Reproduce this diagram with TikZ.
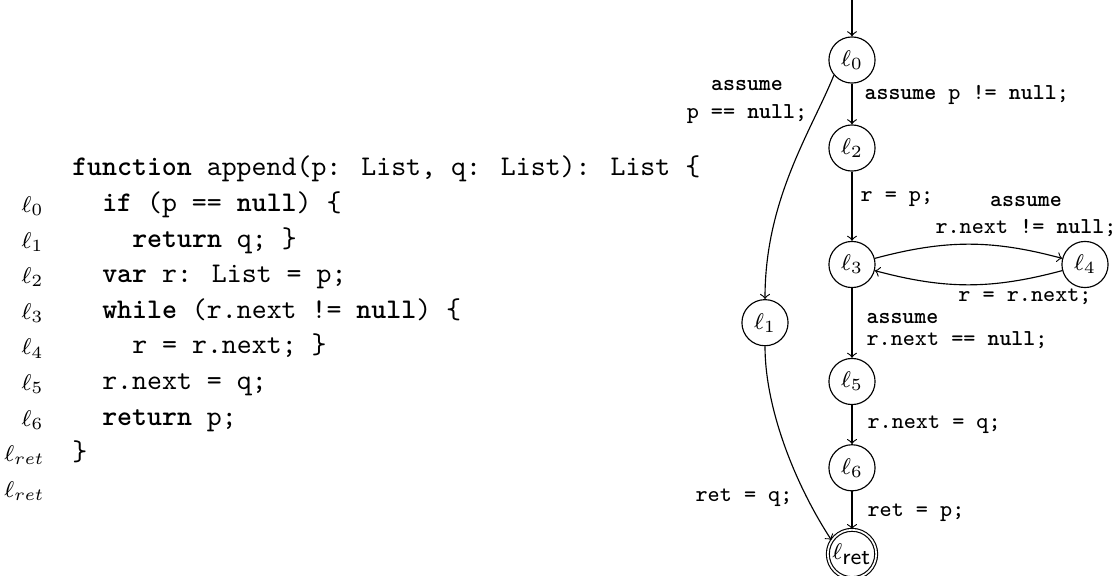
\documentclass[tikz,border=0pt]{standalone}
\begin{document}
\begin{tikzpicture}[x=0.3511pt,y=-0.3511pt,
  st/.style={circle,draw,minimum size=16.2pt,inner sep=0.5pt,font=\footnotesize},
  fin/.style={st,double},
  lbl/.style={inner sep=0pt,font=\footnotesize\ttfamily},
  code/.style={anchor=base west,inner sep=0pt,font=\ttfamily},
  lnum/.style={anchor=base east,inner sep=0pt,font=\footnotesize},
  arr/.style={->}]
\useasboundingbox (0,0) rectangle (1118,576);
% listing
\node[code] (c0) at (71.7,176) {\textbf{function} append(p: List, q: List): List \{};
\node[lnum] (n0) at (44,212.5) {$\ell_0$};
\node[code] (c1) at (101.7,211.6) {\textbf{if} (p == \textbf{null}) \{};
\node[lnum] (n1) at (44,248.1) {$\ell_1$};
\node[code] (c2) at (131.7,247.2) {\textbf{return} q; \}};
\node[lnum] (n2) at (44,283.7) {$\ell_2$};
\node[code] (c3) at (101.7,282.8) {\textbf{var} r: List = p;};
\node[lnum] (n3) at (44,319.3) {$\ell_3$};
\node[code] (c4) at (101.7,318.4) {\textbf{while} (r.next != \textbf{null}) \{};
\node[lnum] (n4) at (44,354.9) {$\ell_4$};
\node[code] (c5) at (131.7,354) {r = r.next; \}};
\node[lnum] (n5) at (44,390.5) {$\ell_5$};
\node[code] (c6) at (101.7,389.6) {r.next = q;};
\node[lnum] (n6) at (44,426.1) {$\ell_6$};
\node[code] (c7) at (101.7,425.2) {\textbf{return} p;};
\node[lnum] (n7) at (45,461.7) {$\ell_{ret}$};
\node[code] (c8) at (71.7,460.8) {\}};
\node[lnum] (n8) at (45,497.3) {$\ell_{ret}$};
% graph
\coordinate (top) at (852,0);
\node[st] (l0) at (852,60) {$\ell_0$};
\node[st] (l2) at (852,148) {$\ell_2$};
\node[st] (l3) at (852,264.5) {$\ell_3$};
\node[st] (l4) at (1085,264.5) {$\ell_4$};
\node[st] (l1) at (765,322.7) {$\ell_1$};
\node[st] (l5) at (852,381.5) {$\ell_5$};
\node[st] (l6) at (852,467.8) {$\ell_6$};
\node[fin] (lr) at (852,554) {$\ell_{\textsf{ret}}$};
\draw[arr] (top) -- (l0);
\draw[arr] (l0) -- (l2);
\draw[arr] (l2) -- (l3);
\draw[arr] (l3) to[bend left=15] (l4);
\draw[arr] (l4) to[bend left=15] (l3);
\draw[arr] (l3) -- (l5);
\draw[arr] (l5) -- (l6);
\draw[arr] (l6) -- (lr);
\draw[arr] (l0.220) .. controls +(-22.5,55.6) and +(0,-100) .. (l1.north);
\draw[arr] (l1.south) .. controls +(0,60) and +(-38.2,-58.7) .. (lr.146);
% labels
\node[lbl,anchor=base west] (a02) at (864,100) {\textbf{assume} p != \textbf{null};};
\node[lbl,anchor=base west] (a23) at (860,201.7) {r = p;};
\node[lbl,anchor=base] (a34) at (1026,206.7) {\begin{tabular}[t]{@{}c@{}}\textbf{assume}\\ r.next != \textbf{null};\end{tabular}};
\node[lbl,anchor=base] (a43) at (1025,301.5) {r = r.next;};
\node[lbl,anchor=base west] (a35) at (866,323.3) {\begin{tabular}[t]{@{}l@{}}\textbf{assume}\\[-1.6pt] r.next == \textbf{null};\end{tabular}};
\node[lbl,anchor=base west] (a56) at (867,428.3) {r.next = q;};
\node[lbl,anchor=base west] (a6r) at (867,516.7) {ret = p;};
\node[lbl,anchor=base] (a01) at (747,91) {\begin{tabular}[t]{@{}c@{}}\textbf{assume}\\ p == \textbf{null};\end{tabular}};
\node[lbl,anchor=base] (a1r) at (744,501) {ret = q;};
\end{tikzpicture}
\end{document}
